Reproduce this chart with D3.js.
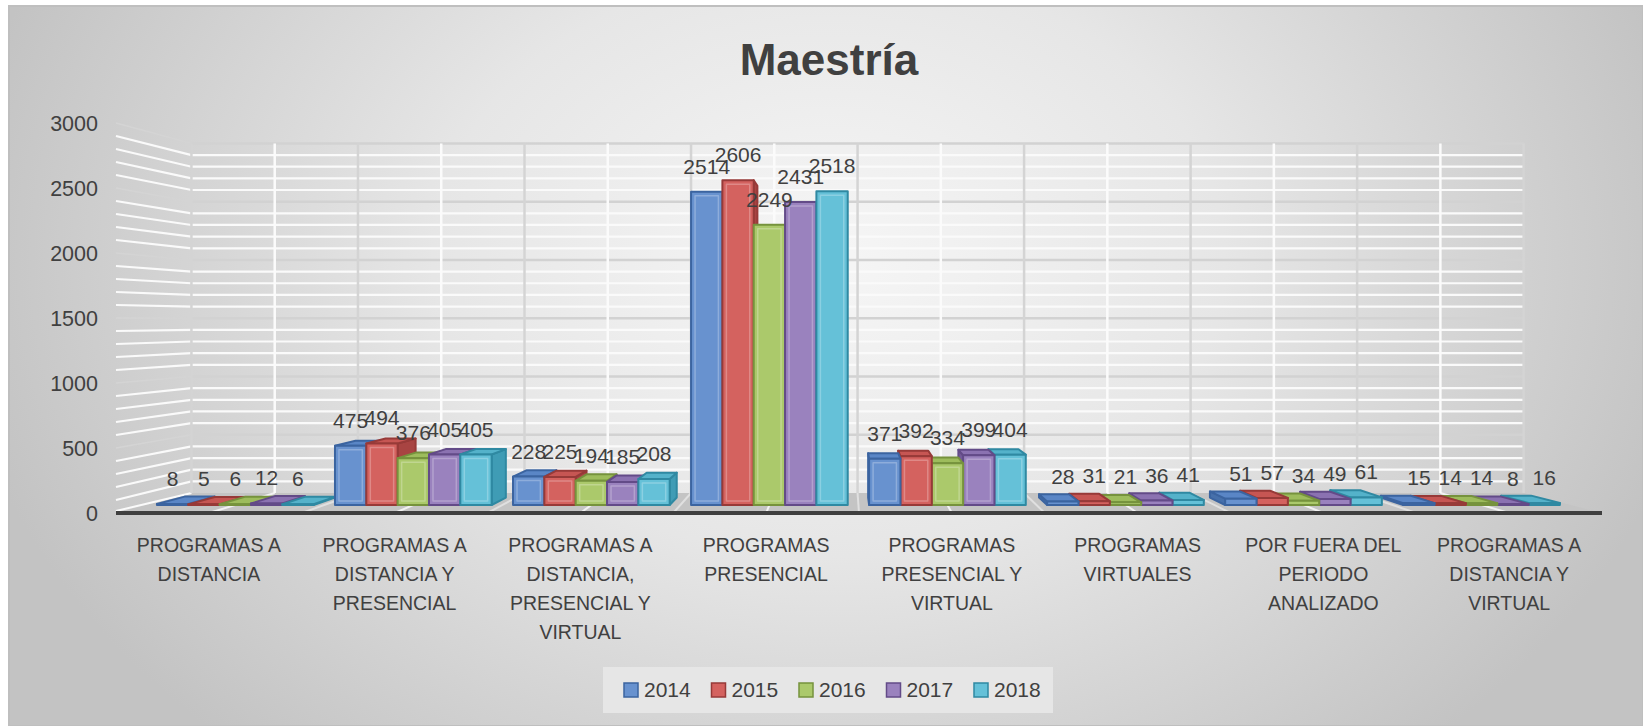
<!doctype html>
<html>
<head>
<meta charset="utf-8">
<title>Maestría</title>
<script src="https://cdnjs.cloudflare.com/ajax/libs/d3/7.8.5/d3.min.js"></script>
<style>
  html, body { margin: 0; padding: 0; background: #fff; }
  svg { display: block; font-family: "Liberation Sans", Arial, sans-serif; }
</style>
</head>
<body>
<div id="chart"></div>
<script>
// data
const categories = [
  "PROGRAMAS A DISTANCIA",
  "PROGRAMAS A DISTANCIA Y PRESENCIAL",
  "PROGRAMAS A DISTANCIA, PRESENCIAL Y VIRTUAL",
  "PROGRAMAS PRESENCIAL",
  "PROGRAMAS PRESENCIAL Y VIRTUAL",
  "PROGRAMAS VIRTUALES",
  "POR FUERA DEL PERIODO ANALIZADO",
  "PROGRAMAS A DISTANCIA Y VIRTUAL"
];
const categoryLines = [
  ["PROGRAMAS A", "DISTANCIA"],
  ["PROGRAMAS A", "DISTANCIA Y", "PRESENCIAL"],
  ["PROGRAMAS A", "DISTANCIA,", "PRESENCIAL Y", "VIRTUAL"],
  ["PROGRAMAS", "PRESENCIAL"],
  ["PROGRAMAS", "PRESENCIAL Y", "VIRTUAL"],
  ["PROGRAMAS", "VIRTUALES"],
  ["POR FUERA DEL", "PERIODO", "ANALIZADO"],
  ["PROGRAMAS A", "DISTANCIA Y", "VIRTUAL"]
];
const years = ["2014", "2015", "2016", "2017", "2018"];
const v2014 = [8, 475, 228, 2514, 371, 28, 51, 15];
const v2015 = [5, 494, 225, 2606, 392, 31, 57, 14];
const v2016 = [6, 376, 194, 2249, 334, 21, 34, 14];
const v2017 = [12, 405, 185, 2431, 399, 36, 49, 8];
const v2018 = [6, 405, 208, 2518, 404, 41, 61, 16];
const yTicks = [0, 500, 1000, 1500, 2000, 2500, 3000];

const seriesValues = [v2014, v2015, v2016, v2017, v2018];
const colors = [
  { front: "#6892cf", top: "#5a86c6", side: "#4670ab", stroke: "#3b64a0" },
  { front: "#d4625f", top: "#c65653", side: "#a84442", stroke: "#973a38" },
  { front: "#abc96b", top: "#9dbc5c", side: "#86a34a", stroke: "#76923d" },
  { front: "#9a82be", top: "#8b72b1", side: "#735a98", stroke: "#634b88" },
  { front: "#65c1d8", top: "#54b2ca", side: "#3f9cb5", stroke: "#2f89a2" }
];

const W = 1643, H = 726;
const svg = d3.select("#chart").append("svg").attr("width", W).attr("height", H);

// background
const defs = svg.append("defs");
const rg = defs.append("radialGradient").attr("id", "bg")
  .attr("gradientUnits", "userSpaceOnUse")
  .attr("cx", 829).attr("cy", 260).attr("r", 880)
  .attr("gradientTransform", "translate(829,260) scale(1,0.75) translate(-829,-260)");
rg.append("stop").attr("offset", 0).attr("stop-color", "#f6f6f6");
rg.append("stop").attr("offset", 0.45).attr("stop-color", "#e6e6e6");
rg.append("stop").attr("offset", 1).attr("stop-color", "#c3c3c3");

svg.append("rect").attr("x", 9).attr("y", 6).attr("width", W - 9).attr("height", H - 6)
  .attr("fill", "url(#bg)").attr("stroke", "#bfbfbf").attr("stroke-width", 2);

// perspective
const VX = 845, VY = 320;
const S_BACK = 0.8965, S_FRONT_BAR = 0.9585, S_BACK_BAR = 0.92;
const proj = (xv, yv, s) => [VX + (xv - VX) * s, VY + (yv - VY) * s];
const pts = arr => arr.map(p => p.join(",")).join(" ");

const X_LEFT = 116, X_RIGHT = 1602;
const y = d3.scaleLinear().domain([0, 3000]).range([513, 123]);
const x0 = d3.scaleBand().domain(categories).range([X_LEFT, X_RIGHT]).paddingInner(0.12).paddingOuter(0.06);
const x1 = d3.scaleBand().domain(years).range([0, x0.bandwidth()]);
const step = x0.step();

const walls = svg.append("g");

// floor
walls.append("polygon")
  .attr("points", pts([proj(X_LEFT, y(0), 1), proj(X_RIGHT, y(0), 1), proj(X_RIGHT, y(0), S_BACK), proj(X_LEFT, y(0), S_BACK)]))
  .attr("fill", "#c4c4c4");

// floor lines at category centers and boundaries
categories.forEach((c, i) => {
  const xc = x0(c) + x0.bandwidth() / 2;
  const a = proj(xc, y(0), 1), b = proj(xc, y(0), S_BACK);
  walls.append("line").attr("x1", a[0]).attr("y1", a[1]).attr("x2", b[0]).attr("y2", b[1])
    .attr("stroke", "#f2f2f2").attr("stroke-width", 2);
  if (i > 0) {
    const xb = X_LEFT + i * step;
    const p = proj(xb, y(0), 1), q = proj(xb, y(0), S_BACK);
    walls.append("line").attr("x1", p[0]).attr("y1", p[1]).attr("x2", q[0]).attr("y2", q[1])
      .attr("stroke", "#e0e0e0").attr("stroke-width", 2);
  }
});

// horizontal gridlines (back wall and left wall)
const minor = d3.range(100, 3000, 100).filter(v => v % 500 !== 0);
const major = d3.range(500, 3001, 500);
minor.forEach(v => {
  const a = proj(X_LEFT, y(v), 1), b = proj(X_LEFT, y(v), S_BACK), c = proj(X_RIGHT, y(v), S_BACK);
  walls.append("polyline").attr("points", pts([a, b, c]))
    .attr("fill", "none").attr("stroke", "#fafafa").attr("stroke-width", 2.2);
});
major.forEach(v => {
  const a = proj(X_LEFT, y(v), 1), b = proj(X_LEFT, y(v), S_BACK), c = proj(X_RIGHT, y(v), S_BACK);
  walls.append("line").attr("x1", a[0]).attr("y1", a[1]).attr("x2", b[0]).attr("y2", b[1])
    .attr("stroke", "#d4d4d4").attr("stroke-width", 1.5);
  walls.append("line").attr("x1", b[0]).attr("y1", b[1]).attr("x2", c[0]).attr("y2", c[1])
    .attr("stroke", "#d2d2d2").attr("stroke-width", 2.5);
});
// zero line on left wall
{
  const a = proj(X_LEFT, y(0), 1), b = proj(X_LEFT, y(0), S_BACK);
  walls.append("line").attr("x1", a[0]).attr("y1", a[1] - 2).attr("x2", b[0]).attr("y2", b[1])
    .attr("stroke", "#fafafa").attr("stroke-width", 2);
}

// vertical gridlines on back wall
categories.forEach((c, i) => {
  const xc = x0(c) + x0.bandwidth() / 2;
  const t = proj(xc, y(3000), S_BACK), b = proj(xc, y(0), S_BACK);
  walls.append("line").attr("x1", t[0]).attr("y1", t[1]).attr("x2", b[0]).attr("y2", b[1])
    .attr("stroke", "#fbfbfb").attr("stroke-width", 2.5);
});
d3.range(0, categories.length + 1).forEach(i => {
  const xb = X_LEFT + i * step;
  const t = proj(xb, y(3000), S_BACK), b = proj(xb, y(0), S_BACK);
  walls.append("line").attr("x1", t[0]).attr("y1", t[1]).attr("x2", b[0]).attr("y2", b[1])
    .attr("stroke", "#d4d4d4").attr("stroke-width", 2.5);
});

// front edge of floor
{
  const a = proj(X_LEFT, y(0), 1), b = proj(X_RIGHT, y(0), 1);
  walls.append("line").attr("x1", a[0]).attr("y1", a[1]).attr("x2", b[0]).attr("y2", b[1])
    .attr("stroke", "#3f3f3f").attr("stroke-width", 4);
}

// y axis labels
svg.append("g").selectAll("text").data(yTicks).join("text")
  .attr("x", 98).attr("y", d => y(d) + 8)
  .attr("text-anchor", "end").attr("font-size", 21.5).attr("fill", "#404040")
  .text(d => d);

// bars
const bars = [];
categories.forEach((c, i) => {
  years.forEach((yr, j) => {
    const xa = x0(c) + x1(yr), xb = xa + x1.bandwidth();
    bars.push({ i, j, xa, xb, v: seriesValues[j][i] });
  });
});
bars.sort((a, b) => Math.abs((b.xa + b.xb) / 2 - VX) - Math.abs((a.xa + a.xb) / 2 - VX));

const gb = svg.append("g");
bars.forEach(d => {
  const col = colors[d.j];
  const yt = y(d.v), y0 = y(0);
  const g = gb.append("g").attr("stroke", col.stroke).attr("stroke-width", 2).attr("stroke-linejoin", "round");
  // side face
  if (d.xb < VX) {
    g.append("polygon").attr("points", pts([proj(d.xb, yt, S_FRONT_BAR), proj(d.xb, yt, S_BACK_BAR), proj(d.xb, y0, S_BACK_BAR), proj(d.xb, y0, S_FRONT_BAR)]))
      .attr("fill", col.side);
  }
  if (d.xa > VX) {
    g.append("polygon").attr("points", pts([proj(d.xa, yt, S_FRONT_BAR), proj(d.xa, yt, S_BACK_BAR), proj(d.xa, y0, S_BACK_BAR), proj(d.xa, y0, S_FRONT_BAR)]))
      .attr("fill", col.side);
  }
  // top face
  if (yt > VY) {
    g.append("polygon").attr("points", pts([proj(d.xa, yt, S_FRONT_BAR), proj(d.xb, yt, S_FRONT_BAR), proj(d.xb, yt, S_BACK_BAR), proj(d.xa, yt, S_BACK_BAR)]))
      .attr("fill", col.top);
  }
  // front face
  const p0 = proj(d.xa, yt, S_FRONT_BAR), p1 = proj(d.xb, y0, S_FRONT_BAR);
  g.append("rect").attr("x", p0[0]).attr("y", p0[1]).attr("width", p1[0] - p0[0]).attr("height", Math.max(0.5, p1[1] - p0[1]))
    .attr("fill", col.front);
  // bevel
  if (p1[1] - p0[1] > 10) {
    g.append("rect").attr("x", p0[0] + 4).attr("y", p0[1] + 4).attr("width", p1[0] - p0[0] - 8).attr("height", p1[1] - p0[1] - 8)
      .attr("fill", "none").attr("stroke", "#ffffff").attr("stroke-opacity", 0.25).attr("stroke-width", 1.5);
  }
});

// data labels
const gl = svg.append("g");
bars.forEach(d => {
  const p = proj((d.xa + d.xb) / 2, y(d.v), S_FRONT_BAR);
  gl.append("text").attr("x", p[0]).attr("y", p[1] - 18)
    .attr("text-anchor", "middle").attr("font-size", 21).attr("fill", "#404040")
    .text(d.v);
});

// category labels
const gc = svg.append("g");
categories.forEach((c, i) => {
  const xc = x0(c) + x0.bandwidth() / 2;
  const t = gc.append("text").attr("x", xc).attr("y", 552)
    .attr("text-anchor", "middle").attr("font-size", 19.5).attr("fill", "#404040");
  categoryLines[i].forEach((ln, k) => {
    t.append("tspan").attr("x", xc).attr("dy", k === 0 ? 0 : 29).text(ln);
  });
});

// title
svg.append("text").attr("x", 829).attr("y", 75).attr("text-anchor", "middle")
  .attr("font-size", 44).attr("font-weight", "bold").attr("fill", "#404040").text("Maestría");

// legend
const lg = svg.append("g");
lg.append("rect").attr("x", 603).attr("y", 667).attr("width", 450).attr("height", 46).attr("fill", "#e6e6e6");
years.forEach((yr, j) => {
  const lx = 624 + j * 87.5;
  lg.append("rect").attr("x", lx).attr("y", 683).attr("width", 14).attr("height", 14)
    .attr("fill", colors[j].front).attr("stroke", colors[j].stroke).attr("stroke-width", 1.5);
  lg.append("text").attr("x", lx + 20).attr("y", 697).attr("font-size", 21).attr("fill", "#404040").text(yr);
});
</script>
</body>
</html>
